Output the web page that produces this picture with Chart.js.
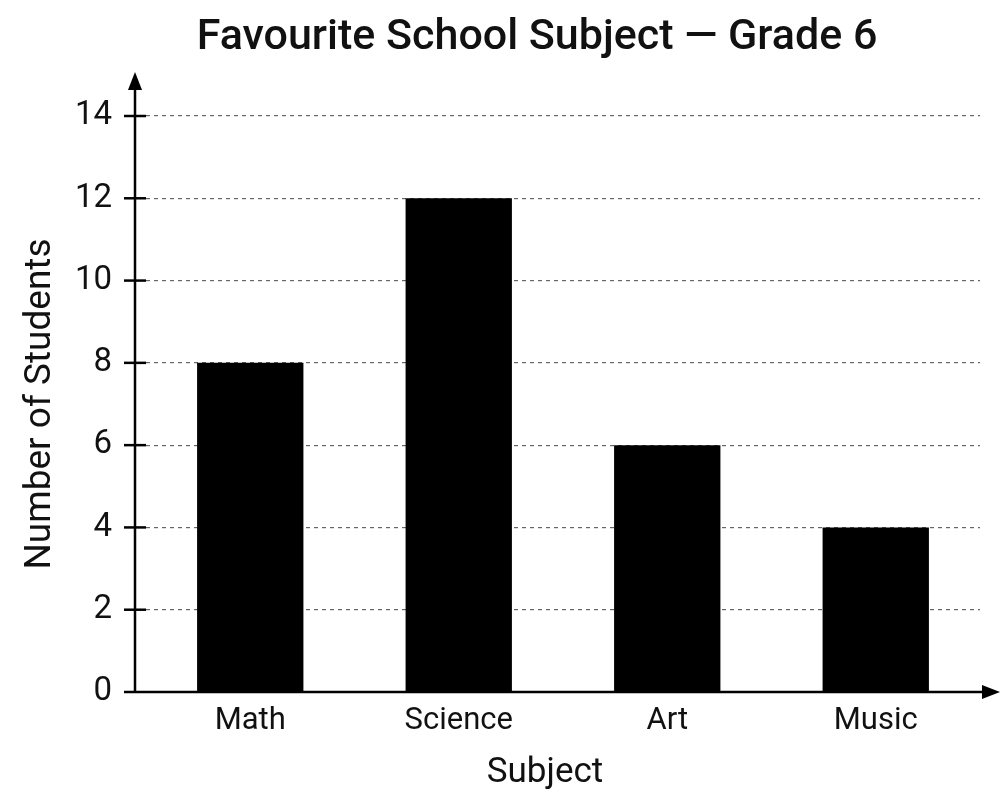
<!DOCTYPE html>
<html>
<head>
<meta charset="utf-8">
<script src="https://cdn.jsdelivr.net/npm/chart.js@4"></script>
<style>
  html, body { margin: 0; padding: 0; background: #fff; }
  #wrap { width: 1002px; height: 796px; }
</style>
</head>
<body>
<div id="wrap"><canvas id="subject-chart"></canvas></div>
<script>
const subjects = ["Math", "Science", "Art", "Music"];
const students = [8, 12, 6, 4];
const yTicks = [0, 2, 4, 6, 8, 10, 12, 14];
const chartTitle = "Favourite School Subject \u2014 Grade 6";
const xTitle = "Subject";

Chart.defaults.font.family = "Roboto";
Chart.defaults.color = "#111";

// title, x title, axis lines with arrows and the tick crosses on the y axis
const axisDecor = {
  id: 'axisDecor',
  afterDatasetsDraw(chart) {
    const ctx = chart.ctx;
    const area = chart.chartArea;
    const y = chart.scales.y;
    const axisX = area.left - 11;
    const axisY = y.getPixelForValue(0);
    ctx.save();
    ctx.strokeStyle = '#000';
    ctx.fillStyle = '#000';
    ctx.lineWidth = 2.5;

    // x axis + arrow
    ctx.beginPath();
    ctx.moveTo(axisX - 11, axisY);
    ctx.lineTo(chart.width - 10, axisY);
    ctx.stroke();
    ctx.beginPath();
    ctx.moveTo(chart.width - 2, axisY);
    ctx.lineTo(chart.width - 20, axisY - 7);
    ctx.lineTo(chart.width - 20, axisY + 7);
    ctx.closePath();
    ctx.fill();

    // y axis + arrow
    const topY = area.top - 44;
    ctx.beginPath();
    ctx.moveTo(axisX, axisY);
    ctx.lineTo(axisX, topY + 10);
    ctx.stroke();
    ctx.beginPath();
    ctx.moveTo(axisX, topY);
    ctx.lineTo(axisX - 7, topY + 18);
    ctx.lineTo(axisX + 7, topY + 18);
    ctx.closePath();
    ctx.fill();

    // tick crosses
    yTicks.forEach(v => {
      if (v === 0) return;
      const py = y.getPixelForValue(v);
      ctx.beginPath();
      ctx.moveTo(axisX - 11, py);
      ctx.lineTo(axisX + 11, py);
      ctx.stroke();
    });

    ctx.textAlign = 'center';
    ctx.textBaseline = 'middle';
    ctx.fillStyle = '#111';

    // chart title
    ctx.font = '500 43px Roboto';
    ctx.fillText(chartTitle, chart.width / 2 + 36, 38);

    // x axis title
    ctx.font = '400 35px Roboto';
    ctx.fillText(xTitle, chart.width / 2 + 44, 773);
    ctx.restore();
  }
};

new Chart(document.getElementById('subject-chart'), {
  type: 'bar',
  data: {
    labels: subjects,
    datasets: [{
      data: students,
      backgroundColor: '#000',
      borderWidth: 0,
      categoryPercentage: 1,
      barPercentage: 0.51
    }]
  },
  options: {
    responsive: true,
    maintainAspectRatio: false,
    animation: false,
    layout: { padding: { top: 116, right: 22, bottom: 0, left: 0 } },
    scales: {
      x: {
        grid: { display: false, drawTicks: false },
        border: { display: false },
        ticks: { padding: 11, color: '#111', font: { size: 31 } },
        afterFit: scale => { scale.height = 104; }
      },
      y: {
        min: 0,
        max: 14,
        afterBuildTicks: scale => { scale.ticks = yTicks.map(v => ({ value: v })); },
        grid: {
          drawTicks: false,
          lineWidth: 1.2,
          color: ctx => ctx.tick && ctx.tick.value === 0 ? 'rgba(0,0,0,0)' : '#666'
        },
        border: { display: false, dash: [4, 4] },
        ticks: { padding: 34, color: '#111', font: { size: 33 } },
        title: {
          display: true,
          text: 'Number of Students',
          color: '#111',
          font: { size: 37 },
          padding: { top: 19, bottom: 0 }
        },
        afterFit: scale => { scale.width = 146; }
      }
    },
    plugins: {
      legend: { display: false },
      tooltip: { enabled: false }
    }
  },
  plugins: [axisDecor]
});
</script>
</body>
</html>
